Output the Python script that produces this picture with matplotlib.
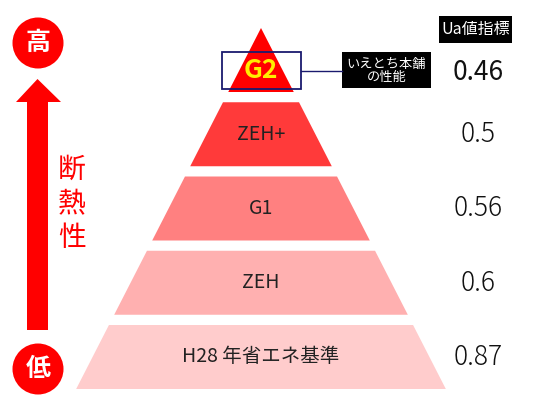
import matplotlib
matplotlib.use('Agg')
import matplotlib.pyplot as plt
from matplotlib.patches import Polygon, Circle, Rectangle

plt.rcParams['font.family'] = ['Noto Sans CJK JP', 'DejaVu Sans']

# data, top of the pyramid first
levels = ["G2", "ZEH+", "G1", "ZEH", "H28 年省エネ基準"]
ua_values = [0.46, 0.5, 0.56, 0.6, 0.87]
layer_colors = ["#FF0000", "#FF3A3A", "#FF8080", "#FFB0B0", "#FFCCCC"]
ua_header = "Ua値指標"
own_label = "いえとち本舗\nの性能"
axis_label = "断熱性"
top_label = "高"
bottom_label = "低"

fig = plt.figure(figsize=(5.46, 4.09), dpi=100)
ax = fig.add_axes([0, 0, 1, 1])
ax.set_xlim(0, 546)
ax.set_ylim(409, 0)
ax.axis('off')

# pyramid geometry (pixel space)
cx = 261
apex = 28
slope = 0.512
pitch = 74.25
layer_h = 64

def half(y):
    return (y - apex) * slope

for i, (name, val, col) in enumerate(zip(levels, ua_values, layer_colors)):
    top = apex + pitch * i
    bot = top + layer_h
    pts = [(cx - half(top), top), (cx + half(top), top),
           (cx + half(bot), bot), (cx - half(bot), bot)]
    ax.add_patch(Polygon(pts, closed=True, facecolor=col, edgecolor='none'))
    mid = (top + bot) / 2
    if i == 0:
        ax.text(cx, mid + 11, name, ha='center', va='center', fontsize=19,
                fontweight='bold', color='#FFEE00')
    else:
        ax.text(cx, mid, name, ha='center', va='center',
                fontsize=14, color='#222222')
    # own level is drawn a little heavier
    ax.text(478, mid + (12 if i == 0 else 0), "{:g}".format(val),
            ha='center', va='center', fontsize=19,
            fontweight='normal' if i == 0 else 'light', color='#111111')

# highlight box for own performance
ax.add_patch(Rectangle((222, 52), 79, 37, facecolor='none',
                       edgecolor='#1A1A6E', linewidth=1.3))
ax.plot([301, 342], [70.5, 70.5], color='#1A1A6E', linewidth=1.0)
ax.add_patch(Rectangle((342, 52), 89, 36, facecolor='black', edgecolor='none'))
ax.text(386.5, 71, own_label, ha='center', va='center', fontsize=9.5,
        color='white', linespacing=1.05)

# header box
ax.add_patch(Rectangle((439, 16), 73, 27, facecolor='black', edgecolor='none'))
ax.text(475.5, 29.5, ua_header, ha='center', va='center', fontsize=11.5,
        color='white')

# left arrow and circles
ax.add_patch(Polygon([(27, 330), (48, 330), (48, 102), (61, 102),
                      (37.5, 79), (16, 102), (27, 102)],
                     closed=True, facecolor='#FF0000', edgecolor='none'))
ax.add_patch(Circle((38, 43), 25.5, facecolor='#FF0000', edgecolor='none'))
ax.add_patch(Circle((38, 369), 25.5, facecolor='#FF0000', edgecolor='none'))
ax.text(38, 43, top_label, ha='center', va='center', fontsize=18,
        fontweight='bold', color='white')
ax.text(38, 369, bottom_label, ha='center', va='center', fontsize=18,
        fontweight='bold', color='white')
for k, ch in enumerate(axis_label):
    ax.text(72, 170 + 34 * k, ch, ha='center', va='center', fontsize=20,
            color='#FF0000')

fig.savefig("out.png", dpi=100)
